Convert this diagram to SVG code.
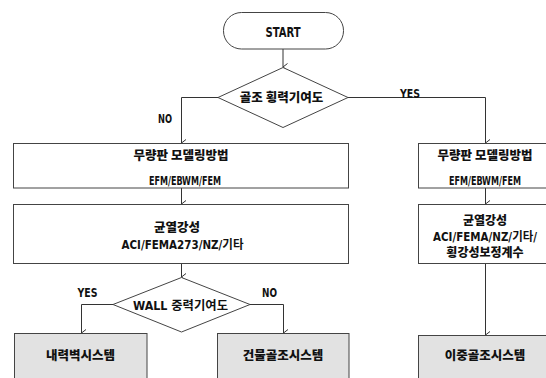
<svg xmlns="http://www.w3.org/2000/svg" width="546" height="378" viewBox="0 0 546 378">
<defs>
<style>
.s{fill:#fff;stroke:#444;stroke-width:1}
.g{fill:#e2e2e2;stroke:#444;stroke-width:1}
.c{fill:none;stroke:#333;stroke-width:1}
text{font-family:"Liberation Sans Narrow","DejaVu Sans Condensed","Noto Sans CJK KR",sans-serif;font-weight:bold;fill:#111;text-anchor:middle}
.k{font-family:"Noto Sans CJK KR",sans-serif;font-size:12.5px;font-weight:900}
.e{font-size:12.5px}
.l{font-size:12.5px}
</style>
<marker id="ah" markerWidth="10" markerHeight="8" refX="4" refY="6" orient="auto" markerUnits="userSpaceOnUse" viewBox="0 0 8 8">
<path d="M0.5,1.5 L4,6 L7.5,1.5" fill="none" stroke="#333" stroke-width="1"/>
</marker>
</defs>
<g id="connectors">
<path class="c" d="M283,49 V67" marker-end="url(#ah)"/>
<path class="c" d="M218,97.5 H181.5 V143" marker-end="url(#ah)"/>
<path class="c" d="M348,97.5 H485.5 V143" marker-end="url(#ah)"/>
<path class="c" d="M181.5,188 V204" marker-end="url(#ah)"/>
<path class="c" d="M485.5,188 V204" marker-end="url(#ah)"/>
<path class="c" d="M181.5,264 V277" marker-end="url(#ah)"/>
<path class="c" d="M113,304.5 H81.5 V333" marker-end="url(#ah)"/>
<path class="c" d="M250,304.5 H283.5 V333" marker-end="url(#ah)"/>
<path class="c" d="M485.5,264 V335" marker-end="url(#ah)"/>
<text class="l" x="165" y="123" textLength="14" lengthAdjust="spacingAndGlyphs">NO</text>
<text class="l" x="410" y="98" textLength="20" lengthAdjust="spacingAndGlyphs">YES</text>
<text class="l" x="87.5" y="297" textLength="20" lengthAdjust="spacingAndGlyphs">YES</text>
<text class="l" x="269.5" y="297" textLength="15" lengthAdjust="spacingAndGlyphs">NO</text>
</g>
<g id="start">
<rect class="s" x="223.5" y="12.5" width="120" height="36.5" rx="18" ry="18"/>
<text x="283" y="36.5" style="font-size:14px" textLength="35" lengthAdjust="spacingAndGlyphs">START</text>
</g>
<g id="d1">
<path class="s" d="M283,67.5 L348,97.5 L283,127.5 L218,97.5 Z"/>
<text class="k" x="281.5" y="102">골조 횡력기여도</text>
</g>
<g id="b1">
<rect class="s" x="13.5" y="143.5" width="335" height="44.5"/>
<text class="k" x="181" y="160">무량판 모델링방법</text>
<text class="e" x="185" y="184.5" textLength="72" lengthAdjust="spacingAndGlyphs">EFM/EBWM/FEM</text>
</g>
<g id="b2">
<rect class="s" x="13.5" y="204.5" width="335" height="59"/>
<text class="k" x="177" y="231.5">균열강성</text>
<text class="e" x="182.5" y="248.5" textLength="122" lengthAdjust="spacingAndGlyphs">ACI/FEMA273/NZ/기타</text>
</g>
<g id="r1">
<rect class="s" x="418.5" y="143.5" width="134" height="44.5"/>
<text class="k" x="485" y="160">무량판 모델링방법</text>
<text class="e" x="485" y="184.5" textLength="72" lengthAdjust="spacingAndGlyphs">EFM/EBWM/FEM</text>
</g>
<g id="r2">
<rect class="s" x="418.5" y="204.5" width="134" height="59"/>
<text class="k" x="485" y="225" style="font-size:12px">균열강성</text>
<text class="e" x="485" y="241" style="font-size:12px" textLength="104" lengthAdjust="spacingAndGlyphs">ACI/FEMA/NZ/기타/</text>
<text class="k" x="485" y="257" style="font-size:12px">횡강성보정계수</text>
</g>
<g id="d2">
<path class="s" d="M181.5,277.5 L250,304.5 L181.5,332 L113,304.5 Z"/>
<text class="e" x="180.5" y="309.5" textLength="95" lengthAdjust="spacingAndGlyphs">WALL 중력기여도</text>
</g>
<g id="n1">
<rect class="g" x="14.5" y="333.5" width="132.5" height="60"/>
<text class="k" x="80.5" y="360">내력벽시스템</text>
</g>
<g id="n2">
<rect class="g" x="217.5" y="333.5" width="131.5" height="60"/>
<text class="k" x="283" y="360">건물골조시스템</text>
</g>
<g id="n3">
<rect class="g" x="418.5" y="335.5" width="134" height="60"/>
<text class="k" x="485" y="360">이중골조시스템</text>
</g>
</svg>
